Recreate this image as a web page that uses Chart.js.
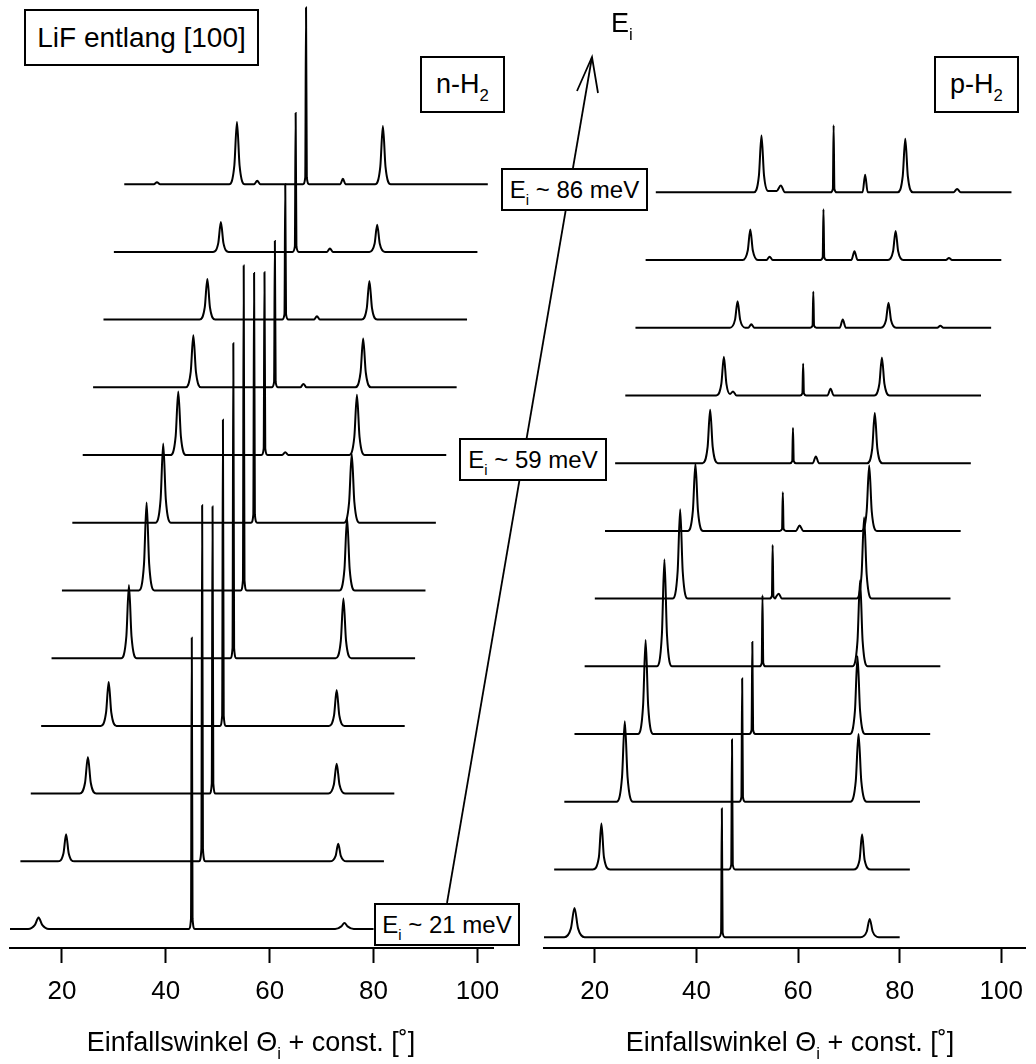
<!DOCTYPE html>
<html>
<head>
<meta charset="utf-8">
<script src="https://cdn.jsdelivr.net/npm/chart.js@4.4.1/dist/chart.umd.min.js"></script>
<style>
  html, body { margin: 0; padding: 0; background: #fff; }
  #wrap { position: relative; width: 1036px; height: 1064px; overflow: hidden; font-family: "Liberation Sans", Arial, sans-serif; color: #000; }
  .pane { position: absolute; top: 0; width: 518px; height: 1064px; }
  .box { position: absolute; box-sizing: border-box; border: 2px solid #000; background: #fff;
         display: flex; align-items: center; justify-content: center; white-space: nowrap; }
  .lbl { position: absolute; white-space: nowrap; }
  sub { font-size: 0.62em; vertical-align: -0.45em; line-height: 0; }
</style>
</head>
<body>
<div id="wrap">
  <div class="pane" style="left:0"><canvas id="left" width="518" height="1064"></canvas></div>
  <div class="pane" style="left:518px"><canvas id="right" width="518" height="1064"></canvas></div>

  <svg width="1036" height="1064" style="position:absolute;left:0;top:0">
    <line x1="447" y1="903" x2="592" y2="57" stroke="#000" stroke-width="1.8"/>
    <polyline points="577,91 592,57 598,93" fill="none" stroke="#000" stroke-width="1.8"/>
  </svg>

  <div class="box" style="left:24px;top:9px;width:235px;height:57px;font-size:28px"><span>LiF entlang [100]</span></div>
  <div class="box" style="left:420px;top:56px;width:85px;height:57px;font-size:27px"><span>n-H<sub>2</sub></span></div>
  <div class="box" style="left:934px;top:56px;width:85px;height:57px;font-size:27px"><span>p-H<sub>2</sub></span></div>
  <div class="box" style="left:501px;top:168px;width:147px;height:43px;font-size:24px"><span>E<sub>i</sub> ~ 86 meV</span></div>
  <div class="box" style="left:459px;top:438px;width:148px;height:43px;font-size:24px"><span>E<sub>i</sub> ~ 59 meV</span></div>
  <div class="box" style="left:374px;top:903px;width:146px;height:43px;font-size:24px"><span>E<sub>i</sub> ~ 21 meV</span></div>
  <div class="lbl" style="left:611px;top:8px;font-size:27px;line-height:30px">E<sub>i</sub></div>

  <div class="lbl" style="left:0;width:502px;top:1026px;text-align:center;font-size:27px;line-height:32px">Einfallswinkel &Theta;<sub>i</sub> + const. [&#730;]</div>
  <div class="lbl" style="left:544px;width:492px;top:1026px;text-align:center;font-size:27px;line-height:32px">Einfallswinkel &Theta;<sub>i</sub> + const. [&#730;]</div>
</div>

<script>
// scan angle (deg) vs. intensity above the trace baseline, bottom trace (lowest E_i) first
const nH2 = [
  [[10,0],[13.5,0],[14.8,0.06],[15.5,0.17],[16.2,0.06],[17.5,0],[44.4,0],[44.85,0.15],[45,4.3],[45.15,0.15],[45.6,0],[72.6,0],[73.8,0.04],[74.4,0.09],[75,0.04],[76.2,0],[80,0]],
  [[10,0],[17.2,0],[18.3,0.12],[18.8,0.4],[19.3,0.12],[20.4,0],[44.4,0],[44.85,0.18],[45,5.26],[45.15,0.18],[45.6,0],[69.6,0],[70.7,0.08],[71.2,0.26],[71.7,0.08],[72.8,0],[80,0]],
  [[10,0],[19.4,0],[20.45,0.16],[21,0.54],[21.55,0.16],[22.6,0],[44.4,0],[44.85,0.15],[45,4.24],[45.15,0.15],[45.6,0],[67.3,0],[68.35,0.13],[68.9,0.44],[69.45,0.13],[70.5,0],[80,0]],
  [[10,0],[21.5,0],[22.5,0.2],[23,0.65],[23.5,0.2],[24.5,0],[44.4,0],[44.85,0.15],[45,4.52],[45.15,0.15],[45.6,0],[65.4,0],[66.4,0.16],[66.9,0.53],[67.4,0.16],[68.4,0],[80,0]],
  [[10,0],[23.4,0],[24.4,0.32],[24.9,1.08],[25.4,0.32],[26.4,0],[44.4,0],[44.85,0.15],[45,4.65],[45.15,0.15],[45.6,0],[64.7,0],[65.7,0.26],[66.2,0.88],[66.7,0.26],[67.7,0],[80,0]],
  [[10,0],[24.8,0],[25.8,0.39],[26.3,1.3],[26.8,0.39],[27.8,0],[44.4,0],[44.85,0.15],[45,4.8],[45.15,0.15],[45.6,0],[63.4,0],[64.4,0.32],[64.9,1.07],[65.4,0.32],[66.4,0],[80,0]],
  [[10,0],[26,0],[27,0.35],[27.5,1.17],[28,0.35],[29,0],[44.4,0],[44.85,0.12],[45,3.69],[45.15,0.12],[45.6,0],[62.3,0],[63.3,0.31],[63.8,1.02],[64.3,0.31],[65.3,0],[80,0]],
  [[10,0],[26.9,0],[27.9,0.28],[28.4,0.94],[28.9,0.28],[29.9,0],[44.4,0],[44.85,0.1],[45,2.7],[45.15,0.1],[45.6,0],[48.4,0],[49,0.04],[49.6,0],[61.3,0],[62.3,0.27],[62.8,0.89],[63.3,0.27],[64.3,0],[80,0]],
  [[10,0],[27.8,0],[28.8,0.23],[29.3,0.77],[29.8,0.23],[30.8,0],[44.4,0],[44.85,0.08],[45,2.16],[45.15,0.08],[45.6,0],[49.9,0],[50.5,0.05],[51.1,0],[60.5,0],[61.5,0.22],[62,0.72],[62.5,0.22],[63.5,0],[80,0]],
  [[10,0],[28.5,0],[29.5,0.18],[30,0.6],[30.5,0.18],[31.5,0],[44.4,0],[44.85,0.08],[45,2],[45.15,0.08],[45.6,0],[50.5,0],[51.1,0.05],[51.7,0],[59.7,0],[60.7,0.17],[61.2,0.57],[61.7,0.17],[62.7,0],[80,0]],
  [[10,0],[29.1,0],[30.1,0.13],[30.6,0.44],[31.1,0.13],[32.1,0],[44.4,0],[44.85,0.08],[45,2.05],[45.15,0.08],[45.6,0],[51,0],[51.6,0.05],[52.2,0],[59.2,0],[60.2,0.12],[60.7,0.4],[61.2,0.12],[62.2,0],[80,0]],
  [[10,0],[15.7,0],[16.3,0.03],[16.9,0],[30.2,0],[31.2,0.28],[31.7,0.92],[32.2,0.28],[33.2,0],[35,0],[35.6,0.05],[36.2,0],[44.4,0],[44.85,0.1],[45,2.61],[45.15,0.1],[45.6,0],[51.6,0],[52.1,0.08],[52.6,0],[58.3,0],[59.3,0.26],[59.8,0.86],[60.3,0.26],[61.3,0],[80,0]]
];

const pH2 = [
  [[10,0],[14,0],[15.3,0.13],[16,0.43],[16.7,0.13],[18,0],[44.4,0],[44.85,0.07],[45,1.9],[45.15,0.07],[45.6,0],[72.3,0],[73.5,0.08],[74.1,0.27],[74.7,0.08],[75.9,0],[80,0]],
  [[10,0],[17.6,0],[18.8,0.18],[19.3,0.68],[19.8,0.18],[21,0],[44.4,0],[44.85,0.07],[45,1.92],[45.15,0.07],[45.6,0],[68.9,0],[70.1,0.14],[70.6,0.52],[71.1,0.14],[72.3,0],[80,0]],
  [[10,0],[20.3,0],[21.35,0.36],[21.9,1.19],[22.45,0.36],[23.5,0],[44.4,0],[44.85,0.07],[45,1.82],[45.15,0.07],[45.6,0],[66.3,0],[67.35,0.3],[67.9,1],[68.45,0.3],[69.5,0],[80,0]],
  [[10,0],[22.5,0],[23.5,0.42],[24,1.39],[24.5,0.42],[25.5,0],[44.4,0],[44.85,0.06],[45,1.36],[45.15,0.06],[45.6,0],[64.2,0],[65.2,0.35],[65.7,1.15],[66.2,0.35],[67.2,0],[80,0]],
  [[10,0],[24.2,0],[25.2,0.47],[25.7,1.58],[26.2,0.47],[27.2,0],[44.4,0],[44.85,0.05],[45,1.05],[45.15,0.05],[45.6,0],[62.7,0],[63.7,0.38],[64.2,1.27],[64.7,0.38],[65.7,0],[80,0]],
  [[10,0],[25.3,0],[26.3,0.4],[26.8,1.32],[27.3,0.4],[28.3,0],[44.4,0],[44.85,0.04],[45,0.79],[45.15,0.04],[45.5,0],[45.7,0.03],[46.2,0.07],[46.8,0],[61.5,0],[62.5,0.36],[63,1.2],[63.5,0.36],[64.5,0],[80,0]],
  [[10,0],[26.3,0],[27.3,0.3],[27.8,0.99],[28.3,0.3],[29.3,0],[44.4,0],[44.85,0.03],[45,0.57],[45.15,0.03],[45.6,0],[47.6,0],[48.3,0.08],[49,0],[60.5,0],[61.5,0.29],[62,0.97],[62.5,0.29],[63.5,0],[80,0]],
  [[10,0],[27.2,0],[28.2,0.24],[28.7,0.79],[29.2,0.24],[30.2,0],[44.4,0],[44.85,0.03],[45,0.52],[45.15,0.03],[45.6,0],[48.9,0],[49.5,0.1],[50.1,0],[59.6,0],[60.6,0.22],[61.1,0.74],[61.6,0.22],[62.6,0],[80,0]],
  [[10,0],[27.9,0],[28.9,0.17],[29.4,0.57],[29.9,0.17],[30.6,0.02],[31.2,0.06],[31.9,0],[44.4,0],[44.85,0.03],[45,0.47],[45.15,0.03],[45.6,0],[49.8,0],[50.4,0.1],[51,0],[59,0],[60,0.17],[60.5,0.56],[61,0.17],[62,0],[80,0]],
  [[10,0],[28.6,0],[29.6,0.12],[30.1,0.39],[30.6,0.12],[31.6,0],[32.2,0],[32.8,0.05],[33.4,0],[44.4,0],[44.85,0.03],[45,0.53],[45.15,0.03],[45.6,0],[50.2,0],[50.8,0.12],[51.4,0],[58.3,0],[59.3,0.11],[59.8,0.37],[60.3,0.11],[61.3,0],[69.4,0],[70,0.03],[70.6,0],[80,0]],
  [[10,0],[29.1,0],[30.1,0.14],[30.6,0.45],[31.1,0.14],[32.1,0],[33.8,0],[34.4,0.05],[35,0],[44.4,0],[44.85,0.04],[45,0.75],[45.15,0.04],[45.6,0],[50.5,0],[51.1,0.13],[51.7,0],[57.7,0],[58.7,0.13],[59.2,0.43],[59.7,0.13],[60.7,0],[69.1,0],[69.7,0.03],[70.3,0],[80,0]],
  [[10,0],[29.3,0],[30.3,0.25],[30.8,0.84],[31.3,0.25],[32.1,0.02],[33.8,0.02],[34.6,0.1],[35.4,0],[44.4,0],[44.85,0.05],[45,0.99],[45.15,0.05],[45.6,0],[50.7,0],[51.2,0.26],[51.7,0],[57.6,0],[58.6,0.24],[59.1,0.79],[59.6,0.24],[60.6,0],[68.6,0],[69.3,0.05],[70,0],[80,0]]
];

const xTicks = [20, 40, 60, 80, 100];
const angleShift = 2;   // "+ const." added per trace
const traceStep = 1;    // vertical offset between traces

const FONT = '"Liberation Sans", Arial, sans-serif';

function makeDatasets(traces) {
  return traces.map((pts, k) => ({
    data: pts.map(([x, y]) => ({ x: x + k * angleShift, y: y + k * traceStep })),
    borderColor: '#000',
    borderWidth: 2,
    pointRadius: 0,
    fill: false,
    cubicInterpolationMode: 'monotone'
  }));
}

function makeChart(id, traces, xMax, yMin, yMax, padding) {
  const ctx = document.getElementById(id).getContext('2d');
  return new Chart(ctx, {
    type: 'line',
    data: { datasets: makeDatasets(traces) },
    options: {
      responsive: false,
      animation: false,
      devicePixelRatio: 1,
      layout: { padding: padding },
      plugins: { legend: { display: false }, tooltip: { enabled: false } },
      scales: {
        x: {
          type: 'linear',
          min: 10,
          max: xMax,
          afterBuildTicks: (s) => { s.ticks = xTicks.map(v => ({ value: v })); },
          afterFit: (s) => { s.height = 116; },
          border: { display: true, color: '#000', width: 2 },
          grid: { display: true, drawOnChartArea: false, drawTicks: true, tickLength: 15, tickWidth: 2, tickColor: '#000' },
          ticks: { color: '#000', padding: 13, maxRotation: 0, font: { family: FONT, size: 26 } }
        },
        y: { display: false, min: yMin, max: yMax }
      }
    }
  });
}

makeChart('left', nH2, 103, -0.28, 13.72, { left: 10, right: 25, top: 0, bottom: 0 });
makeChart('right', pH2, 104.8, -0.16, 13.84, { left: 26, right: 0, top: 0, bottom: 0 });
</script>
</body>
</html>
